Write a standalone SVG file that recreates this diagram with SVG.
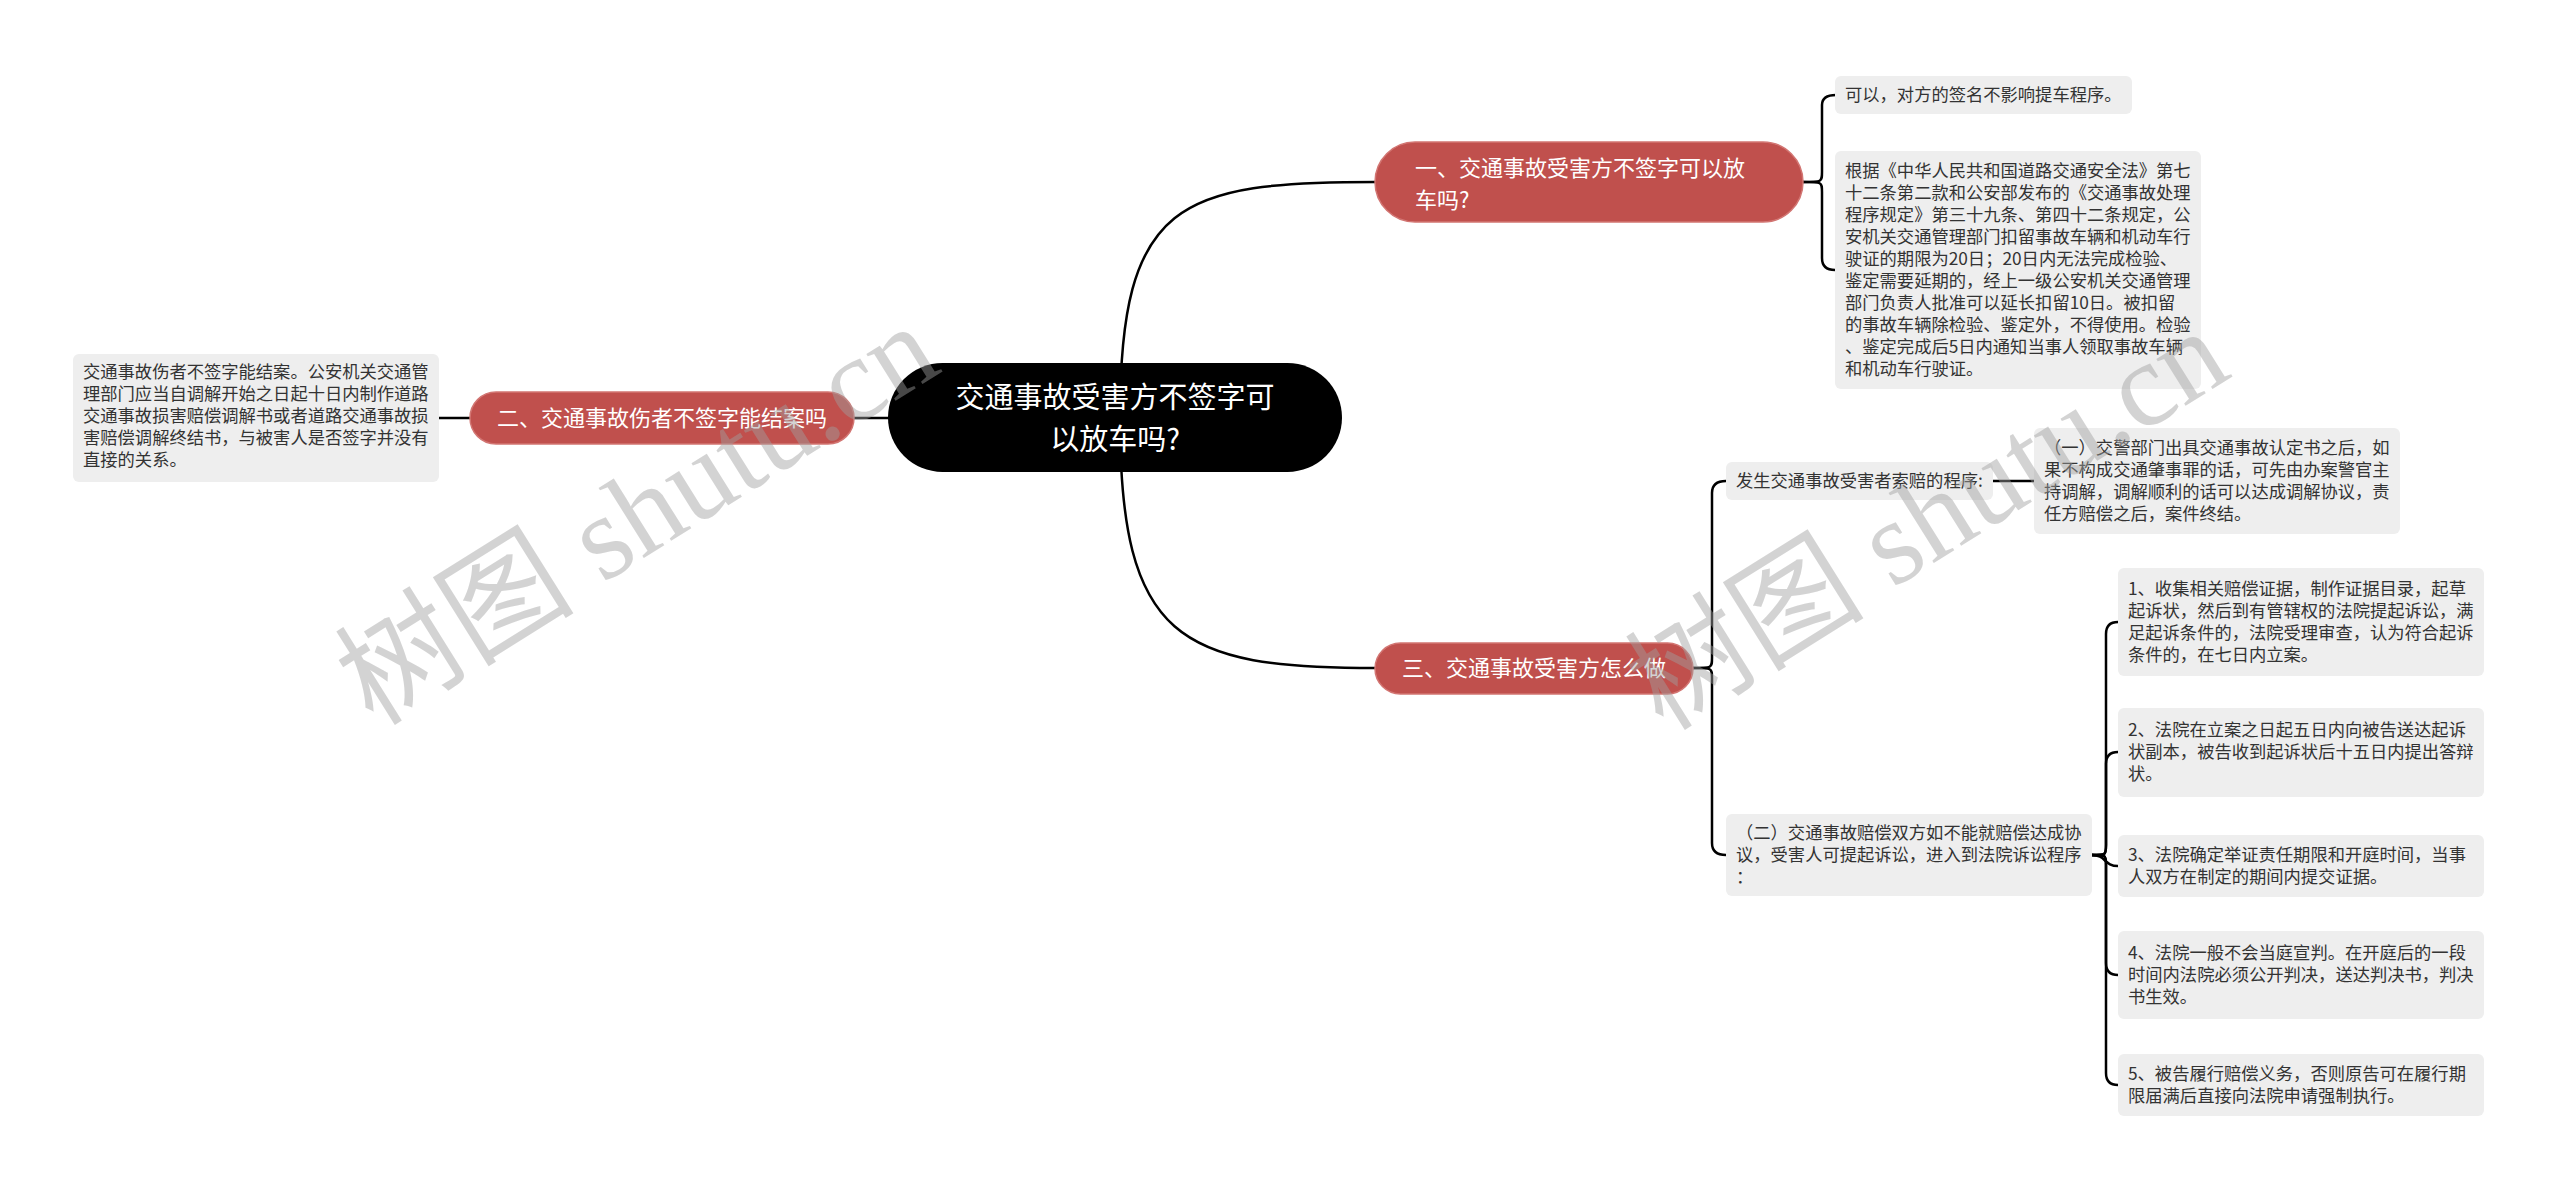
<svg xmlns="http://www.w3.org/2000/svg" width="2560" height="1192" viewBox="0 0 2560 1192">
<style>
.root rect{fill:#000}
.root text{fill:#fff;font-size:29px}
.br rect{fill:#c0504d;stroke:#d27572;stroke-width:1.5}
.br text{fill:#fff;font-size:22px}
.lf rect{fill:#eeeeee}
.lf text{fill:#333;font-size:17.3px}
text{font-family:"Noto Sans CJK SC","Noto Sans",sans-serif}
.conn path{fill:none;stroke:#000;stroke-width:2.5;stroke-linecap:round}
.wm{font-family:"Liberation Serif","Noto Sans CJK SC",serif;font-size:120px;fill:#a0a0a0;opacity:0.45}
</style>
<rect width="2560" height="1192" fill="#fff"/>
<g id="connectors" class="conn">
<path d="M1120,418 C1120,200 1180,182 1376,182"/>
<path d="M1120,418 C1120,640 1180,668 1376,668"/>
<path d="M854,418 H890"/>
<path d="M438,418 H470"/>
<path d="M1803,182 C1822,182 1822,182 1822,172 V105 Q1822,95 1836,95"/>
<path d="M1803,182 C1822,182 1822,182 1822,192 V258 Q1822,270 1835,270"/>
<path d="M1693,668 C1712,668 1712,668 1712,658 V493 Q1712,481 1726,481"/>
<path d="M1693,668 C1712,668 1712,668 1712,678 V843 Q1712,855 1726,855"/>
<path d="M1993,481 H2034"/>
<path d="M2092,855 C2106,855 2106,855 2106,845 V634 Q2106,622 2118,622"/>
<path d="M2092,855 C2106,855 2106,855 2106,845 V764 Q2106,752 2118,752"/>
<path d="M2092,855 C2106,855 2104,866 2118,866"/>
<path d="M2092,855 C2106,855 2106,855 2106,865 V963 Q2106,975 2118,975"/>
<path d="M2092,855 C2106,855 2106,855 2106,865 V1073 Q2106,1085 2118,1085"/>
</g>
<g id="root" class="root">
<rect x="888" y="363" width="454" height="109" rx="54.5"/>
<text x="1115" y="408" text-anchor="middle">交通事故受害方不签字可</text>
<text x="1115" y="450" text-anchor="middle">以放车吗?</text>
</g>
<g id="b1" class="br">
<rect x="1375" y="142" width="428" height="80" rx="40"/>
<text x="1415" y="176">一、交通事故受害方不签字可以放</text>
<text x="1415" y="208">车吗?</text>
</g>
<g id="b2" class="br">
<rect x="470" y="392" width="384" height="52" rx="26"/>
<text x="662" y="426" text-anchor="middle">二、交通事故伤者不签字能结案吗</text>
</g>
<g id="b3" class="br">
<rect x="1375" y="643" width="318" height="51" rx="25.5"/>
<text x="1534" y="676" text-anchor="middle">三、交通事故受害方怎么做</text>
</g>
<g id="l2" class="lf">
<rect x="73" y="354" width="366" height="128" rx="6"/>
<text x="83" y="378">交通事故伤者不签字能结案。公安机关交通管</text>
<text x="83" y="400">理部门应当自调解开始之日起十日内制作道路</text>
<text x="83" y="422">交通事故损害赔偿调解书或者道路交通事故损</text>
<text x="83" y="444">害赔偿调解终结书，与被害人是否签字并没有</text>
<text x="83" y="466">直接的关系。</text>
</g>
<g id="l1a" class="lf">
<rect x="1835" y="76" width="297" height="38" rx="6"/>
<text x="1845" y="101">可以，对方的签名不影响提车程序。</text>
</g>
<g id="l1b" class="lf">
<rect x="1835" y="151" width="366" height="238" rx="6"/>
<text x="1845" y="177">根据《中华人民共和国道路交通安全法》第七</text>
<text x="1845" y="199">十二条第二款和公安部发布的《交通事故处理</text>
<text x="1845" y="221">程序规定》第三十九条、第四十二条规定，公</text>
<text x="1845" y="243">安机关交通管理部门扣留事故车辆和机动车行</text>
<text x="1845" y="265">驶证的期限为20日；20日内无法完成检验、</text>
<text x="1845" y="287">鉴定需要延期的，经上一级公安机关交通管理</text>
<text x="1845" y="309">部门负责人批准可以延长扣留10日。被扣留</text>
<text x="1845" y="331">的事故车辆除检验、鉴定外，不得使用。检验</text>
<text x="1845" y="353">、鉴定完成后5日内通知当事人领取事故车辆</text>
<text x="1845" y="375">和机动车行驶证。</text>
</g>
<g id="s3a" class="lf">
<rect x="1726" y="462" width="267" height="38" rx="6"/>
<text x="1736" y="487">发生交通事故受害者索赔的程序:</text>
</g>
<g id="l3a1" class="lf">
<rect x="2034" y="428" width="366" height="106" rx="6"/>
<text x="2044" y="454">（一）交警部门出具交通事故认定书之后，如</text>
<text x="2044" y="476">果不构成交通肇事罪的话，可先由办案警官主</text>
<text x="2044" y="498">持调解，调解顺利的话可以达成调解协议，责</text>
<text x="2044" y="520">任方赔偿之后，案件终结。</text>
</g>
<g id="s3b" class="lf">
<rect x="1726" y="814" width="366" height="82" rx="6"/>
<text x="1736" y="839">（二）交通事故赔偿双方如不能就赔偿达成协</text>
<text x="1736" y="861">议，受害人可提起诉讼，进入到法院诉讼程序</text>
<text x="1736" y="883">：</text>
</g>
<g id="n1" class="lf">
<rect x="2118" y="568" width="366" height="108" rx="6"/>
<text x="2128" y="595">1、收集相关赔偿证据，制作证据目录，起草</text>
<text x="2128" y="617">起诉状，然后到有管辖权的法院提起诉讼，满</text>
<text x="2128" y="639">足起诉条件的，法院受理审查，认为符合起诉</text>
<text x="2128" y="661">条件的，在七日内立案。</text>
</g>
<g id="n2" class="lf">
<rect x="2118" y="708" width="366" height="89" rx="6"/>
<text x="2128" y="736">2、法院在立案之日起五日内向被告送达起诉</text>
<text x="2128" y="758">状副本，被告收到起诉状后十五日内提出答辩</text>
<text x="2128" y="780">状。</text>
</g>
<g id="n3" class="lf">
<rect x="2118" y="835" width="366" height="62" rx="6"/>
<text x="2128" y="861">3、法院确定举证责任期限和开庭时间，当事</text>
<text x="2128" y="883">人双方在制定的期间内提交证据。</text>
</g>
<g id="n4" class="lf">
<rect x="2118" y="931" width="366" height="88" rx="6"/>
<text x="2128" y="959">4、法院一般不会当庭宣判。在开庭后的一段</text>
<text x="2128" y="981">时间内法院必须公开判决，送达判决书，判决</text>
<text x="2128" y="1003">书生效。</text>
</g>
<g id="n5" class="lf">
<rect x="2118" y="1054" width="366" height="62" rx="6"/>
<text x="2128" y="1080">5、被告履行赔偿义务，否则原告可在履行期</text>
<text x="2128" y="1102">限届满后直接向法院申请强制执行。</text>
</g>
<g id="watermark">
<text class="wm" x="637" y="555" text-anchor="middle" transform="rotate(-32 637 514)">树图 shutu.cn</text>
<text class="wm" x="1927" y="560" text-anchor="middle" transform="rotate(-32 1927 519)">树图 shutu.cn</text>
</g>
</svg>
